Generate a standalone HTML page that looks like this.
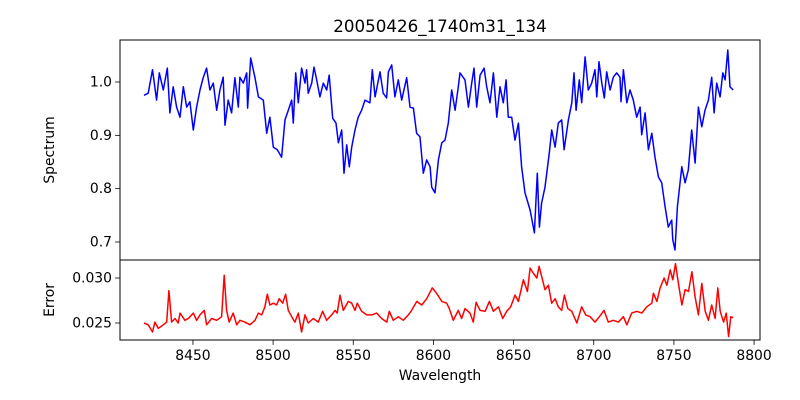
<!DOCTYPE html>
<html><head><meta charset="utf-8"><style>
html,body{margin:0;padding:0;background:#fff;}
svg{display:block;font-family:"DejaVu Sans","Liberation Sans",sans-serif;}
</style></head><body>
<svg id="chart" width="800" height="400" viewBox="0 0 800 400">
<rect width="800" height="400" fill="#fff"/>
<text x="440" y="32" text-anchor="middle" font-size="16.7">20050426_1740m31_134</text>
<g id="topPlot"></g>
<g id="botPlot"></g>
<text x="440" y="380" text-anchor="middle" font-size="13.9">Wavelength</text>
<text transform="translate(54,150) rotate(-90)" text-anchor="middle" font-size="13.9">Spectrum</text>
<text transform="translate(54,300) rotate(-90)" text-anchor="middle" font-size="13.9">Error</text>
</svg>
<script>
const specWl=[8419.5,8422.1,8424.8,8427.3,8429.0,8431.5,8434.0,8435.6,8437.7,8439.8,8441.9,8444.0,8446.1,8448.1,8450.2,8452.3,8454.4,8456.4,8458.5,8460.6,8462.7,8464.8,8466.8,8468.9,8470.0,8472.0,8474.1,8476.2,8478.3,8479.3,8481.4,8483.5,8484.1,8486.0,8488.7,8490.8,8493.9,8496.0,8498.0,8500.1,8502.6,8505.3,8507.4,8509.5,8511.6,8512.6,8514.1,8515.7,8517.8,8519.9,8520.9,8521.9,8524.1,8525.5,8527.2,8529.2,8531.3,8533.4,8535.0,8537.2,8539.2,8540.7,8542.8,8544.2,8545.9,8547.5,8549.0,8551.1,8553.1,8555.2,8557.3,8560.4,8561.9,8563.6,8566.7,8568.7,8570.8,8571.9,8574.0,8576.0,8578.1,8580.2,8583.3,8585.4,8587.5,8589.5,8591.6,8593.7,8595.8,8597.9,8598.9,8601.0,8603.1,8605.2,8607.2,8609.3,8611.4,8613.5,8615.5,8616.6,8619.7,8621.8,8623.9,8625.3,8627.0,8629.1,8631.6,8633.2,8635.3,8637.4,8639.5,8641.5,8643.6,8645.3,8646.7,8648.8,8650.9,8653.0,8655.0,8657.1,8660.3,8663.0,8664.8,8666.1,8667.5,8669.6,8672.3,8673.8,8675.9,8677.9,8680.0,8681.5,8684.2,8686.3,8687.7,8689.0,8691.0,8692.5,8694.6,8696.6,8698.7,8700.8,8701.9,8703.3,8705.0,8706.6,8708.1,8710.2,8712.2,8714.3,8716.4,8717.0,8718.5,8720.6,8722.6,8724.7,8726.8,8728.9,8729.9,8732.0,8734.1,8736.2,8738.2,8740.3,8742.4,8744.5,8746.5,8748.6,8749.3,8750.7,8752.2,8754.9,8757.0,8759.0,8761.1,8763.2,8765.3,8767.4,8769.4,8771.5,8773.6,8775.1,8776.7,8778.8,8780.5,8781.9,8783.6,8785.0,8787.0];
const specFlux=[0.975,0.979,1.023,0.966,1.017,0.985,1.026,0.942,0.991,0.953,0.934,0.991,0.953,0.963,0.910,0.953,0.985,1.008,1.026,0.985,0.998,0.947,0.985,1.009,0.919,0.966,0.942,1.008,0.953,1.009,0.998,1.017,0.951,1.045,1.008,0.972,0.966,0.904,0.934,0.878,0.873,0.859,0.929,0.947,0.966,0.923,1.017,0.961,1.026,0.998,1.023,0.979,0.998,1.028,1.004,0.972,0.998,0.985,1.013,0.932,0.923,0.886,0.910,0.829,0.882,0.841,0.878,0.910,0.934,0.947,0.966,0.961,1.023,0.972,1.019,0.979,0.970,1.019,1.032,0.972,1.004,0.966,1.008,0.953,0.951,0.904,0.897,0.829,0.854,0.841,0.803,0.792,0.854,0.886,0.891,0.923,0.985,0.947,0.991,1.017,1.004,0.953,0.998,1.026,0.953,1.013,1.026,0.991,0.961,1.017,0.934,0.991,0.961,1.004,0.934,0.934,0.891,0.923,0.841,0.792,0.760,0.717,0.829,0.728,0.773,0.803,0.867,0.910,0.878,0.923,0.929,0.873,0.929,0.961,1.017,0.947,1.004,0.961,1.047,0.985,0.998,1.023,0.972,1.038,0.998,0.970,1.019,0.985,1.009,1.017,1.009,0.963,1.023,0.961,0.985,0.966,0.934,0.953,0.901,0.942,0.873,0.904,0.859,0.822,0.811,0.766,0.728,0.741,0.704,0.685,0.766,0.841,0.811,0.835,0.910,0.848,0.953,0.916,0.947,0.966,1.009,0.942,0.998,0.972,1.017,1.004,1.060,0.991,0.985];
const errWl=[8419.5,8422.1,8424.8,8426.3,8428.4,8431.5,8433.6,8435.0,8436.7,8438.8,8440.8,8441.9,8445.0,8447.1,8450.2,8452.3,8454.4,8457.1,8458.5,8461.7,8464.8,8467.9,8469.5,8471.0,8472.6,8475.1,8477.3,8479.3,8482.4,8485.6,8488.7,8490.8,8492.9,8494.9,8496.4,8498.0,8500.1,8502.2,8503.8,8506.0,8507.8,8509.5,8511.6,8513.6,8515.7,8517.8,8519.9,8521.9,8525.1,8528.2,8530.9,8533.4,8536.5,8538.6,8540.0,8541.7,8543.8,8546.9,8549.0,8551.1,8552.5,8555.2,8558.4,8561.5,8564.6,8567.7,8570.9,8572.5,8575.0,8578.1,8581.2,8584.3,8586.4,8589.6,8592.7,8595.8,8599.3,8602.0,8605.2,8608.3,8609.9,8612.4,8615.5,8617.6,8619.7,8622.8,8624.9,8626.6,8629.1,8632.2,8634.9,8637.4,8640.5,8643.2,8645.7,8648.2,8650.9,8653.0,8656.1,8658.6,8660.3,8662.4,8664.5,8665.9,8667.6,8669.6,8671.7,8673.8,8675.9,8677.9,8680.0,8681.7,8683.8,8686.3,8689.4,8692.5,8695.0,8697.7,8700.8,8703.5,8706.4,8709.1,8712.2,8715.3,8718.5,8720.6,8723.7,8726.8,8730.0,8733.1,8736.2,8737.2,8739.4,8741.4,8743.9,8745.6,8747.7,8749.3,8751.0,8752.8,8755.0,8757.0,8759.1,8761.2,8763.2,8765.3,8767.4,8769.5,8771.5,8773.6,8775.7,8777.4,8778.9,8781.0,8782.6,8784.1,8785.5,8787.0];
const errVal=[0.0250,0.0248,0.0240,0.0251,0.0244,0.0248,0.0251,0.0286,0.0251,0.0255,0.0250,0.0261,0.0253,0.0255,0.0261,0.0253,0.0259,0.0264,0.0248,0.0255,0.0253,0.0257,0.0303,0.0264,0.0251,0.0261,0.0248,0.0253,0.0251,0.0248,0.0253,0.0261,0.0259,0.0268,0.0282,0.0270,0.0272,0.0270,0.0277,0.0272,0.0282,0.0264,0.0257,0.0251,0.0261,0.0240,0.0259,0.0250,0.0255,0.0251,0.0263,0.0253,0.0259,0.0264,0.0261,0.0281,0.0264,0.0274,0.0272,0.0264,0.0272,0.0263,0.0259,0.0259,0.0261,0.0255,0.0251,0.0263,0.0253,0.0257,0.0253,0.0259,0.0264,0.0274,0.0270,0.0277,0.0289,0.0283,0.0274,0.0272,0.0266,0.0253,0.0264,0.0255,0.0266,0.0261,0.0251,0.0273,0.0264,0.0263,0.0274,0.0263,0.0268,0.0255,0.0263,0.0268,0.0281,0.0274,0.0298,0.0285,0.0311,0.0305,0.0300,0.0313,0.0301,0.0287,0.0292,0.0272,0.0277,0.0268,0.0264,0.0281,0.0266,0.0263,0.0250,0.0268,0.0259,0.0257,0.0251,0.0257,0.0264,0.0251,0.0253,0.0251,0.0257,0.0248,0.0261,0.0263,0.0261,0.0268,0.0272,0.0283,0.0274,0.0289,0.0300,0.0292,0.0309,0.0298,0.0316,0.0294,0.0270,0.0287,0.0285,0.0307,0.0279,0.0259,0.0294,0.0263,0.0253,0.0270,0.0255,0.0289,0.0263,0.0251,0.0261,0.0235,0.0257,0.0256];
const xTicks=[8450,8500,8550,8600,8650,8700,8750,8800];
const specTicks=[0.7,0.8,0.9,1.0];
const errTicks=[0.025,0.030];
const errTickLabels=["0.025","0.030"];

const NS="http://www.w3.org/2000/svg";
const L=120,R=760,T1=40,B1=260,T2=260,B2=340;
const xMin=8404.5,xMax=8803.7;
const sx=v=>L+(v-xMin)/(xMax-xMin)*(R-L);
const sy1=v=>82+(1.0-v)*533.33;
const sy2=v=>278+(0.030-v)*9000;
function mk(tag,attrs,parent){const e=document.createElementNS(NS,tag);for(const k in attrs)e.setAttribute(k,attrs[k]);parent.appendChild(e);return e;}
const topG=document.getElementById('topPlot'),botG=document.getElementById('botPlot');

const n1=Math.min(specWl.length,specFlux.length);
let p1='';for(let i=0;i<n1;i++)p1+=(i?'L':'M')+sx(specWl[i]).toFixed(1)+','+sy1(specFlux[i]).toFixed(1);
const l1=mk('path',{d:p1,fill:'none',stroke:'#0000ff','stroke-width':1.5,'stroke-linejoin':'round'},topG);


const n2=Math.min(errWl.length,errVal.length);
let p2='';for(let i=0;i<n2;i++)p2+=(i?'L':'M')+sx(errWl[i]).toFixed(1)+','+sy2(errVal[i]).toFixed(1);
const l2=mk('path',{d:p2,fill:'none',stroke:'#ff0000','stroke-width':1.5,'stroke-linejoin':'round'},botG);



const f1=mk('rect',{x:L,y:T1,width:R-L,height:B1-T1,fill:'none',stroke:'#000','stroke-width':1},topG);


const f2=mk('rect',{x:L,y:T2,width:R-L,height:B2-T2,fill:'none',stroke:'#000','stroke-width':1},botG);



specTicks.forEach(v=>{const y=sy1(v);
mk('line',{x1:L-4.9,x2:L,y1:y,y2:y,stroke:'#000','stroke-width':0.8},topG);
const t=mk('text',{x:L-8,y:y+4.5,'text-anchor':'end','font-size':13.9},topG);t.textContent=v.toFixed(1);

});
errTicks.forEach((v,i)=>{const y=sy2(v);
mk('line',{x1:L-4.9,x2:L,y1:y,y2:y,stroke:'#000','stroke-width':0.8},botG);
const t=mk('text',{x:L-8,y:y+4.5,'text-anchor':'end','font-size':13.9},botG);t.textContent=errTickLabels[i];

});
xTicks.forEach(v=>{const x=sx(v);
mk('line',{x1:x,x2:x,y1:B2,y2:B2+4.9,stroke:'#000','stroke-width':0.8},botG);
const t=mk('text',{x:x,y:B2+20,'text-anchor':'middle','font-size':13.9},botG);t.textContent=v;

});
</script>
</body></html>
